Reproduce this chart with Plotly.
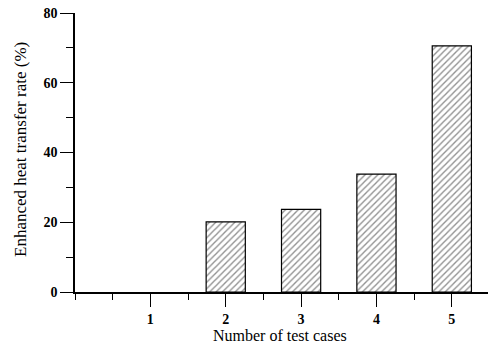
import plotly.graph_objects as go

cases = [1, 2, 3, 4, 5]
rates = [0, 20.1, 23.7, 33.8, 70.6]
x_ticks = [1, 2, 3, 4, 5]
y_ticks = [0, 20, 40, 60, 80]

fig = go.Figure()
fig.add_trace(go.Bar(
    x=cases, y=rates, width=0.52,
    marker=dict(color="white", line=dict(color="black", width=[0 if v == 0 else 1.2 for v in rates]),
                pattern=dict(shape="/", fgcolor="#222", bgcolor="white", size=4.5, solidity=0.3)),
))

font = "Liberation Serif, Times New Roman, serif"
W, H = 491, 347
L, R, T, B = 75, 3, 13, 55
fig.update_layout(
    width=W, height=H,
    margin=dict(l=L, r=R, t=T, b=B, autoexpand=False),
    paper_bgcolor="white", plot_bgcolor="white",
    showlegend=False,
    font=dict(family=font, color="black"),
    xaxis=dict(range=[0, 5.48], tickvals=x_ticks, ticks="outside", ticklen=13, tickwidth=1,
               tickcolor="black", showline=True, linecolor="black", linewidth=1.5, showgrid=False,
               zeroline=False, automargin=False, tickfont=dict(size=14, family=font, weight="bold"),
               minor=dict(dtick=0.5, tick0=0, ticks="outside", ticklen=6, tickcolor="black", showgrid=False)),
    yaxis=dict(range=[0, 80], tickvals=y_ticks, ticks="outside", ticklen=13, tickwidth=1,
               tickcolor="black", showline=True, linecolor="black", linewidth=1.5, showgrid=False,
               zeroline=False, automargin=False, tickfont=dict(size=14, family=font, weight="bold"),
               minor=dict(dtick=10, tick0=0, ticks="outside", ticklen=7, tickcolor="black", showgrid=False)),
)
pw, ph = W - L - R, H - T - B
fig.add_annotation(text="Number of test cases", xref="paper", yref="paper",
                   x=(280 - L) / pw, y=-(335 - (H - B)) / ph, showarrow=False,
                   font=dict(size=16, family=font), xanchor="center", yanchor="middle")
fig.add_annotation(text="Enhanced heat transfer rate (%)", xref="paper", yref="paper",
                   x=-(L - 20) / pw, y=((H - B) - 150) / ph, showarrow=False, textangle=-90,
                   font=dict(size=17, family=font), xanchor="center", yanchor="middle")
fig.write_html("out.html", config={"displayModeBar": False},
               post_script="document.body.style.margin='0px';document.body.style.overflow='hidden';")
